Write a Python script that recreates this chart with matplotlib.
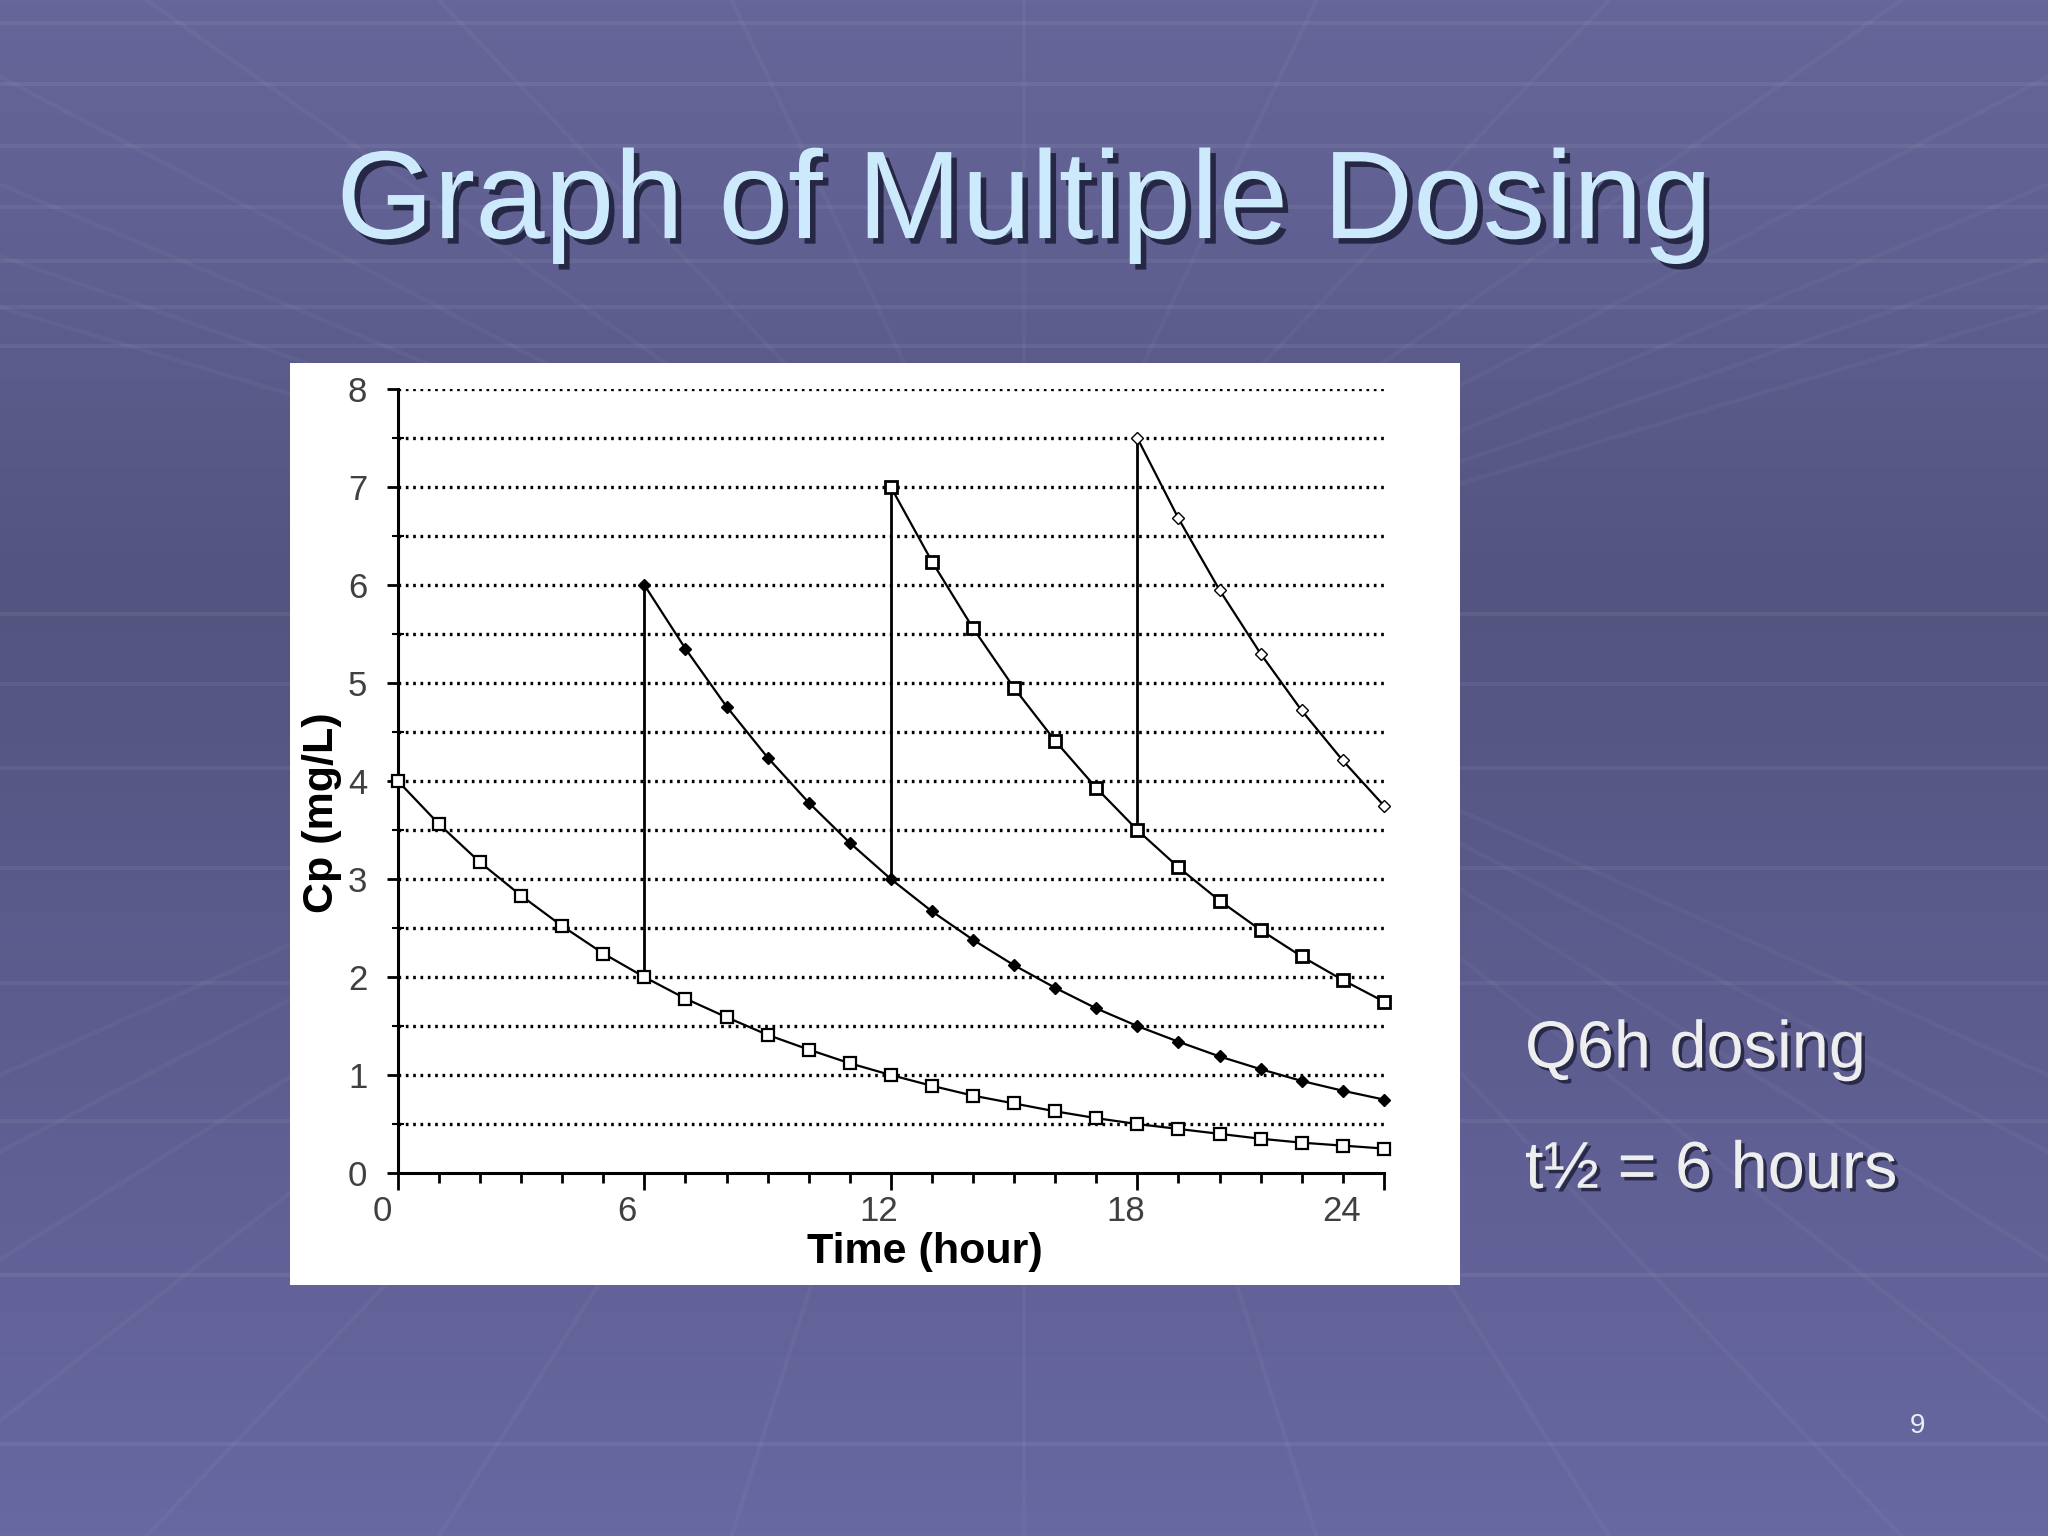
import matplotlib.pyplot as plt
import matplotlib.patheffects as pe
import matplotlib.transforms as mtransforms
import numpy as np

plt.rcParams['font.family'] = ['Liberation Sans', 'DejaVu Sans']

# ---- values (Cp in mg/L, one point per hour) ----
hours = list(range(0, 25))
dose_times = [0, 6, 12, 18]
cp_dose1 = [4.00, 3.56, 3.17, 2.83, 2.52, 2.24, 2.00, 1.78, 1.59, 1.41, 1.26, 1.12, 1.00,
            0.89, 0.79, 0.71, 0.63, 0.56, 0.50, 0.45, 0.40, 0.35, 0.31, 0.28, 0.25]
cp_dose2 = [6.00, 5.35, 4.76, 4.24, 3.78, 3.37, 3.00, 2.67, 2.38, 2.12, 1.89, 1.68, 1.50,
            1.34, 1.19, 1.06, 0.94, 0.84, 0.75]
cp_dose3 = [7.00, 6.24, 5.56, 4.95, 4.41, 3.93, 3.50, 3.12, 2.78, 2.48, 2.21, 1.97, 1.75]
cp_dose4 = [7.50, 6.68, 5.95, 5.30, 4.72, 4.21, 3.75]
series = [cp_dose1, cp_dose2, cp_dose3, cp_dose4]

x_ticks = [0, 6, 12, 18, 24]
x_labels = ['0', '6', '12', '18', '24']
y_ticks = [0, 1, 2, 3, 4, 5, 6, 7, 8]

fig = plt.figure(figsize=(20.48, 15.36), dpi=100)

# ── slide background ───────────────────────────────────────────────────────
bg = fig.add_axes([0, 0, 1, 1], zorder=-10)
bg.set_xlim(0, 1)
bg.set_ylim(0, 1)
bg.axis('off')
stops_y = [0.0, 0.35, 0.62, 0.85, 1.0]
stops_c = np.array([[104, 104, 162], [92, 92, 142], [84, 84, 128], [96, 96, 146], [102, 102, 154]]) / 255
yy = np.linspace(0, 1, 400)
grad = np.stack([np.interp(yy, stops_y, stops_c[:, k]) for k in range(3)], axis=-1)
bg.imshow(grad[:, None, :], extent=(0, 1, 0, 1), aspect='auto', origin='lower', zorder=0)

# faint perspective grid
for hy in [0.985, 0.945, 0.905, 0.865, 0.83, 0.80, 0.775,
           0.60, 0.555, 0.50, 0.435, 0.36, 0.27, 0.17, 0.06]:
    bg.plot([0, 1], [hy, hy], color='white', alpha=0.06, lw=3, zorder=1)
vx, vy = 0.5, 0.6
for ex in np.linspace(-0.5, 1.5, 15):
    bg.plot([vx, ex], [vy, 1.0], color='white', alpha=0.035, lw=3, zorder=1)
    bg.plot([vx, ex], [vy, 0.0], color='white', alpha=0.035, lw=3, zorder=1)

# white chart panel
bg.add_patch(plt.Rectangle((0.1416, 0.1634), 0.5713, 0.6003, facecolor='white',
                           edgecolor='none', zorder=2))

# ── title and notes ────────────────────────────────────────────────────────
shadow = [pe.withSimplePatchShadow(offset=(4, -4), shadow_rgbFace='#1c1c38', alpha=0.85)]
fig.text(0.5, 0.845, 'Graph of Multiple Dosing', fontsize=90, color='#cdeafc',
         ha='center', va='baseline', path_effects=shadow)
small_shadow = [pe.withSimplePatchShadow(offset=(2.5, -2.5), shadow_rgbFace='#1c1c38', alpha=0.8)]
fig.text(0.7446, 0.305, 'Q6h dosing', fontsize=48, color='#eeeeee',
         ha='left', va='baseline', path_effects=small_shadow)
fig.text(0.7446, 0.2265, 't½ = 6 hours', fontsize=48, color='#eeeeee',
         ha='left', va='baseline', path_effects=small_shadow)
fig.text(0.9365, 0.0715, '9', fontsize=20, color='#eeeeee', ha='center', va='center')

# ── the Cp chart ───────────────────────────────────────────────────────────
ax = fig.add_axes([0.1943, 0.2363, 0.4814, 0.5104])
ax.patch.set_visible(False)
ax.set_xlim(0, 24)
ax.set_ylim(0, 8)

# dotted gridlines every 0.5 mg/L
for g in np.arange(0.5, 8.01, 0.5):
    ax.axhline(g, color='black', lw=2.4, ls=(0, (0.8, 1.4)), zorder=1)

styles = [
    dict(marker='s', ms=8, mfc='white', mec='black', mew=1.6),
    dict(marker='D', ms=6.5, mfc='black', mec='black', mew=1.0),
    dict(marker='s', ms=8, mfc='white', mec='black', mew=2.0),
    dict(marker='D', ms=6.5, mfc='white', mec='black', mew=1.0),
]
for t0, cp, st in zip(dose_times, series, styles):
    ax.plot(hours[t0:t0 + len(cp)], cp, color='black', lw=1.6, clip_on=False, zorder=3, **st)

# vertical jumps at each new dose
for i in range(1, len(dose_times)):
    t0 = dose_times[i]
    prev = series[i - 1][t0 - dose_times[i - 1]]
    ax.vlines(t0, prev, series[i][0], color='black', lw=2, zorder=2)

for side in ['top', 'right']:
    ax.spines[side].set_visible(False)
for side in ['left', 'bottom']:
    ax.spines[side].set_linewidth(2.2)

ax.set_yticks(y_ticks)
ax.set_yticks(np.arange(0.5, 8, 1.0), minor=True)
ax.tick_params(axis='y', which='major', direction='out', length=8, width=2,
               labelsize=25, labelcolor='#404040', pad=14)
ax.tick_params(axis='y', which='minor', direction='inout', length=8, width=1.5)

ax.set_xticks(x_ticks)
ax.set_xticks(hours, minor=True)
ax.set_xticklabels([''] * len(x_ticks))
ax.tick_params(axis='x', which='major', direction='out', length=12, width=2)
ax.tick_params(axis='x', which='minor', direction='out', length=7, width=2)

# x labels sit slightly left of their ticks, as in the original export
label_shift_px = [-16, -18, -12, -12, -42]
for xt, lab, dx in zip(x_ticks, x_labels, label_shift_px):
    off = mtransforms.ScaledTranslation(dx / 100, -0.38, fig.dpi_scale_trans)
    ax.text(xt, 0, lab, transform=ax.get_xaxis_transform() + off, fontsize=25,
            color='#404040', ha='center', va='center')

ax.set_xlabel('Time (hour)', fontsize=31, fontweight='bold')
ax.xaxis.set_label_coords(0.534, -0.075)
ax.set_ylabel('Cp (mg/L)', fontsize=31, fontweight='bold')
ax.yaxis.set_label_coords(-0.057, 0.46)

plt.savefig('out.png', dpi=100)
